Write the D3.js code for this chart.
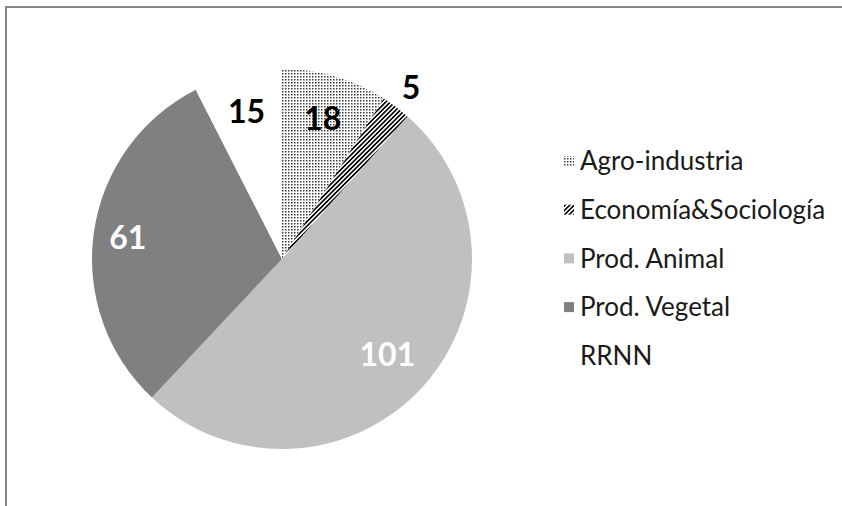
<!DOCTYPE html>
<html>
<head>
<meta charset="utf-8">
<script src="https://cdn.jsdelivr.net/npm/d3@7"></script>
<style>
  body { margin: 0; background: #fff; }
  text { font-family: Lato, "Open Sans", sans-serif; }
</style>
</head>
<body>
<div id="chart"></div>
<script>
// pie data, clockwise from 12 o'clock
var categories = ["Agro-industria", "Economía&Sociología", "Prod. Animal", "Prod. Vegetal", "RRNN"];
var values = [18, 5, 101, 61, 15];
var labelColors = ["#000", "#000", "#fff", "#fff", "#000"];

var width = 842, height = 506;
var cx = 282, cy = 259, r = 190;

var svg = d3.select("#chart").append("svg")
    .attr("width", width)
    .attr("height", height);

// patterns for the first two slices
var defs = svg.append("defs");
var dots = defs.append("pattern")
    .attr("id", "dots")
    .attr("patternUnits", "userSpaceOnUse")
    .attr("width", 3).attr("height", 3);
dots.append("rect").attr("width", 3).attr("height", 3).attr("fill", "#fff");
dots.append("rect").attr("width", 1.5).attr("height", 1.5).attr("fill", "#3a3a3a");

var stripes = defs.append("pattern")
    .attr("id", "stripes")
    .attr("patternUnits", "userSpaceOnUse")
    .attr("width", 3.2).attr("height", 3.2)
    .attr("patternTransform", "rotate(45)");
stripes.append("rect").attr("width", 3.2).attr("height", 3.2).attr("fill", "#fff");
stripes.append("rect").attr("width", 1.6).attr("height", 3.2).attr("fill", "#000");

var fills = ["url(#dots)", "url(#stripes)", "#c0c0c0", "#808080", "#fff"];

// chart frame (cut off on right and bottom)
svg.append("path")
    .attr("d", "M6,506 L6,7 L842,7")
    .attr("fill", "none")
    .attr("stroke", "#868686")
    .attr("stroke-width", 2);

var pie = d3.pie().sort(null).value(function(d){ return d; });
var arcs = pie(values);
var arc = d3.arc().innerRadius(0).outerRadius(r);

var g = svg.append("g").attr("transform", "translate(" + cx + "," + cy + ")");

g.selectAll("path.slice")
    .data(arcs)
  .enter().append("path")
    .attr("class", "slice")
    .attr("fill", function(d, i){ return fills[i]; })
    .attr("d", arc);

// data labels; the small slice gets its label outside
var labelR = [0.77, 1.13, 0.75, 0.82, 0.8];
g.selectAll("text.val")
    .data(arcs)
  .enter().append("text")
    .attr("class", "val")
    .attr("transform", function(d, i){
        var a = d3.arc().innerRadius(r * labelR[i]).outerRadius(r * labelR[i]);
        return "translate(" + a.centroid(d) + ")";
    })
    .attr("text-anchor", "middle")
    .attr("dy", "0.36em")
    .attr("font-size", 32)
    .attr("font-weight", "bold")
    .attr("fill", function(d, i){ return labelColors[i]; })
    .text(function(d){ return d.data; });

// legend
var legend = svg.append("g").attr("transform", "translate(564,161)");
var rows = legend.selectAll("g.row")
    .data(categories)
  .enter().append("g")
    .attr("class", "row")
    .attr("transform", function(d, i){ return "translate(0," + (i * 48.7) + ")"; });
rows.append("rect")
    .attr("x", 0).attr("y", -5)
    .attr("width", 10).attr("height", 10)
    .attr("fill", function(d, i){ return fills[i]; });
rows.append("text")
    .attr("x", 16)
    .attr("dy", "0.35em")
    .attr("font-size", 26)
    .attr("fill", "#1a1a1a")
    .text(function(d){ return d; });
</script>
</body>
</html>
